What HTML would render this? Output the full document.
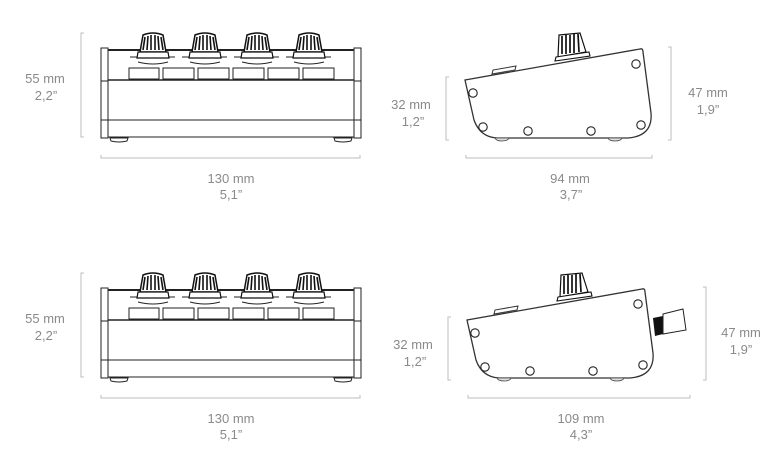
<!DOCTYPE html>
<html><head><meta charset="utf-8"><style>
html,body{margin:0;padding:0;background:#fff;}
svg{display:block;}
text{font-family:"Liberation Sans",sans-serif;font-size:13px;fill:#8a8a8a;text-anchor:middle;}
</style></head><body>
<svg width="784" height="465" viewBox="0 0 784 465" xmlns="http://www.w3.org/2000/svg">
<defs>
<g id="knob">
  <path d="M-10,-22 Q0,-26 10,-22 L13,-5 L-13,-5 Z" fill="#fff" stroke="#111" stroke-width="1.5"/>
  <g stroke="#111" stroke-width="1.6">
    <line x1="-8" y1="-20" x2="-10" y2="-7"/><line x1="-5" y1="-21" x2="-6" y2="-7"/>
    <line x1="-2" y1="-22" x2="-2" y2="-7"/><line x1="2" y1="-22" x2="2" y2="-7"/>
    <line x1="5" y1="-21" x2="6" y2="-7"/><line x1="8" y1="-20" x2="10" y2="-7"/>
  </g>
  <path d="M-15,-5 L15,-5 L16,1 L-16,1 Z" fill="#fff" stroke="#111" stroke-width="1.2"/>
</g>
<g id="front">
  <rect x="101" y="48" width="7" height="90" fill="#fff" stroke="#222" stroke-width="1"/>
  <rect x="354" y="48" width="7" height="90" fill="#fff" stroke="#222" stroke-width="1"/>
  <line x1="108" y1="50" x2="354" y2="50" stroke="#222" stroke-width="2"/>
  <line x1="108" y1="80" x2="354" y2="80" stroke="#222" stroke-width="1.5"/>
  <line x1="101" y1="81" x2="108" y2="81" stroke="#222" stroke-width="1"/>
  <line x1="354" y1="81" x2="361" y2="81" stroke="#222" stroke-width="1"/>
  <line x1="108" y1="120" x2="354" y2="120" stroke="#222" stroke-width="1"/>
  <line x1="101" y1="120" x2="108" y2="120" stroke="#222" stroke-width="1"/>
  <line x1="354" y1="120" x2="361" y2="120" stroke="#222" stroke-width="1"/>
  <line x1="108" y1="137" x2="354" y2="137" stroke="#222" stroke-width="1"/>
  <path d="M110,138 L128,138 L127,141 Q119,143 111,141 Z" fill="#fff" stroke="#222" stroke-width="1"/>
  <path d="M334,138 L352,138 L351,141 Q343,143 335,141 Z" fill="#fff" stroke="#222" stroke-width="1"/>
  <g fill="#fff" stroke="#222" stroke-width="1">
    <rect x="129" y="68" width="30" height="11"/><rect x="163" y="68" width="31" height="11"/>
    <rect x="198" y="68" width="31" height="11"/><rect x="233" y="68" width="31" height="11"/>
    <rect x="268" y="68" width="31" height="11"/><rect x="303" y="68" width="31" height="11"/>
  </g>
  <g stroke="#222" stroke-width="1">
    <line x1="130" y1="57" x2="175" y2="57"/><line x1="182" y1="57" x2="227" y2="57"/>
    <line x1="234" y1="57" x2="279" y2="57"/><line x1="286" y1="57" x2="331" y2="57"/>
  </g>
  <g fill="none" stroke="#222" stroke-width="1">
    <path d="M138,62 Q153,66 168,62"/><path d="M190,62 Q205,66 220,62"/>
    <path d="M242,62 Q257,66 272,62"/><path d="M294,62 Q309,66 324,62"/>
  </g>
  <use href="#knob" x="153" y="57"/><use href="#knob" x="205" y="57"/>
  <use href="#knob" x="257" y="57"/><use href="#knob" x="309" y="57"/>
  <g stroke="#bdbdbd" stroke-width="1" fill="none">
    <path d="M84,33 L81,33 L81,137 L84,137"/>
    <path d="M101,155 L101,158 L360,158 L360,155"/>
  </g>
  <text x="45" y="83">55 mm</text><text x="46" y="100">2,2”</text>
  <text x="231" y="183">130 mm</text><text x="231" y="199">5,1”</text>
</g>
<g id="sidecore">
  <path d="M465,80 L640,49 Q643,48 643,52 L651,113 Q653,136 628,138 L497,138 Q480,137 474,120 Z" fill="#fff" stroke="#333" stroke-width="1.3"/>
  <path d="M492,74 L515,70 L516,66 L493,70 Z" fill="#fff" stroke="#333" stroke-width="1"/>
  <path d="M559,35 L580,33 L586,52 L558,57 Z" fill="#fff" stroke="#111" stroke-width="1.2"/>
  <g stroke="#111" stroke-width="1.7"><line x1="562" y1="36" x2="562" y2="54"/><line x1="566" y1="35" x2="566" y2="54"/><line x1="570" y1="35" x2="570" y2="53"/><line x1="574" y1="34" x2="574" y2="53"/><line x1="578" y1="34" x2="579" y2="52"/></g>
  <path d="M556,57 L589,52 L590,56 L555,61 Z" fill="#fff" stroke="#111" stroke-width="1.1"/>
  <g fill="#fff" stroke="#222" stroke-width="1.1">
    <circle cx="473" cy="93" r="4.2"/><circle cx="483" cy="127" r="4.2"/>
    <circle cx="528" cy="131" r="4.2"/><circle cx="591" cy="131" r="4.2"/>
    <circle cx="641" cy="125" r="4.2"/><circle cx="636" cy="64" r="4.2"/>
  </g>
  <path d="M495,138 L509,138 Q508,141 502,141 Q496,141 495,138 Z" fill="#ddd" stroke="#444" stroke-width="0.8"/>
  <path d="M608,138 L622,138 Q621,141 615,141 Q609,141 608,138 Z" fill="#ddd" stroke="#444" stroke-width="0.8"/>
</g>
</defs>
<use href="#front"/>
<use href="#front" y="240"/>
<use href="#sidecore"/>
<g stroke="#bdbdbd" stroke-width="1" fill="none">
  <path d="M449,77 L446,77 L446,140 L449,140"/>
  <path d="M668,47 L671,47 L671,140 L668,140"/>
  <path d="M466,155 L466,158 L652,158 L652,155"/>
</g>
<text x="411" y="109">32 mm</text><text x="413" y="126">1,2”</text>
<text x="708" y="97">47 mm</text><text x="708" y="114">1,9”</text>
<text x="570" y="183">94 mm</text><text x="571" y="199">3,7”</text>
<g transform="translate(2,240)"><use href="#sidecore"/></g>
<path d="M653,318 L663,316 L663,334 L655,336 Z" fill="#111"/>
<path d="M663,314 L683,309 L686,330 L663,334 Z" fill="#fff" stroke="#222" stroke-width="1"/>
<g stroke="#bdbdbd" stroke-width="1" fill="none">
  <path d="M451,317 L448,317 L448,380 L451,380"/>
  <path d="M703,287 L706,287 L706,380 L703,380"/>
  <path d="M468,395 L468,398 L690,398 L690,395"/>
</g>
<text x="413" y="349">32 mm</text><text x="415" y="366">1,2”</text>
<text x="741" y="337">47 mm</text><text x="741" y="354">1,9”</text>
<text x="581" y="423">109 mm</text><text x="581" y="439">4,3”</text>
</svg>
</body></html>
